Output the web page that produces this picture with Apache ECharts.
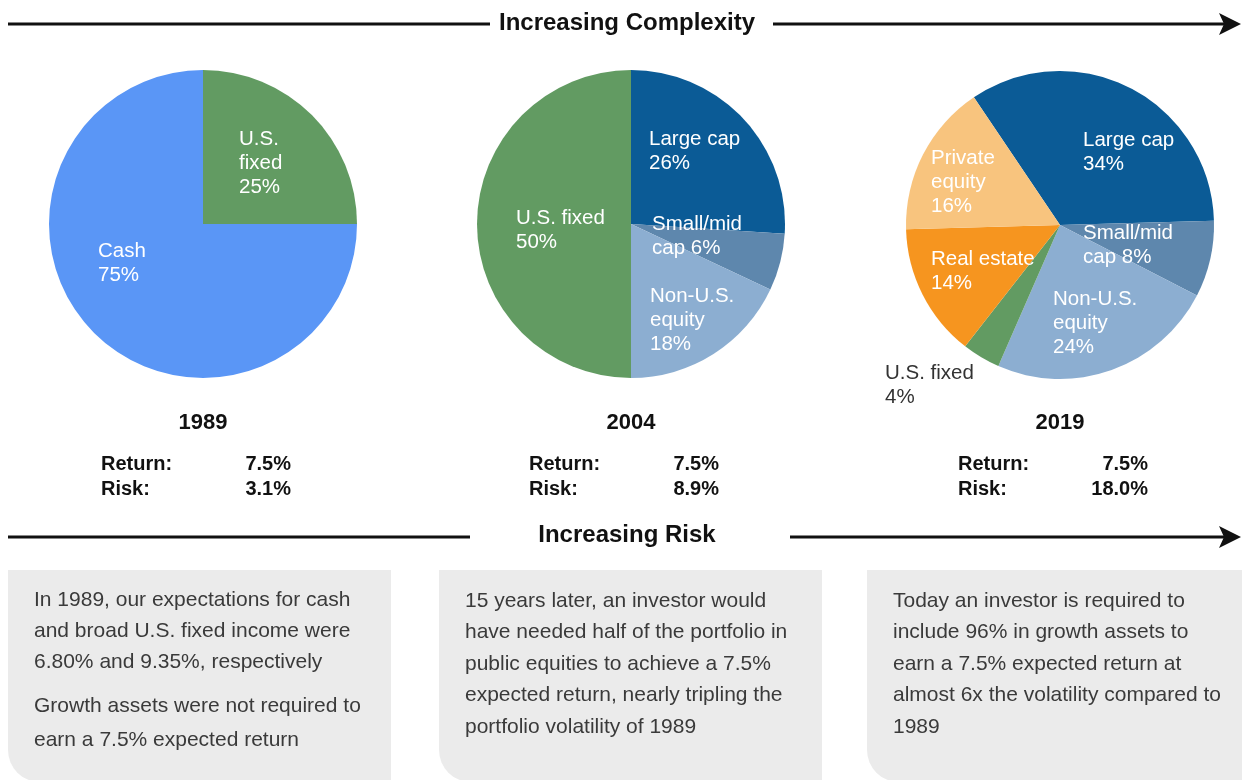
<!DOCTYPE html>
<html>
<head>
<meta charset="utf-8">
<script src="https://cdn.jsdelivr.net/npm/echarts@6/dist/echarts.min.js"></script>
<style>
  html, body { margin: 0; padding: 0; background: #ffffff; }
  #chart { width: 1242px; height: 780px; }
</style>
</head>
<body>
<div id="chart"></div>
<script>
// ---- data ----
const years = ['1989', '2004', '2019'];
const expectedReturn = [7.5, 7.5, 7.5];
const riskLevel = [3.1, 8.9, 18.0];

const names1989 = ['U.S. fixed', 'Cash'];
const values1989 = [25, 75];

const names2004 = ['Large cap', 'Small/mid cap', 'Non-U.S. equity', 'U.S. fixed'];
const values2004 = [26, 6, 18, 50];

const names2019 = ['Large cap', 'Small/mid cap', 'Non-U.S. equity', 'U.S. fixed', 'Real estate', 'Private equity'];
const values2019 = [34, 8, 24, 4, 14, 16];

const topBanner = 'Increasing Complexity';
const bottomBanner = 'Increasing Risk';

const notes1989a = ['In 1989, our expectations for cash', 'and broad U.S. fixed income were', '6.80% and 9.35%, respectively'];
const notes1989b = ['Growth assets were not required to', 'earn a 7.5% expected return'];
const notes2004 = ['15 years later, an investor would', 'have needed half of the portfolio in', 'public equities to achieve a 7.5%', 'expected return, nearly tripling the', 'portfolio volatility of 1989'];
const notes2019 = ['Today an investor is required to', 'include 96% in growth assets to', 'earn a 7.5% expected return at', 'almost 6x the volatility compared to', '1989'];

// ---- styling ----
const FONT = '"Liberation Sans", Arial, Helvetica, sans-serif';
const colors = {
  'Cash': '#5a96f6',
  'U.S. fixed': '#629b62',
  'Large cap': '#0b5b96',
  'Small/mid cap': '#5e87ad',
  'Non-U.S. equity': '#8caed1',
  'Real estate': '#f6951f',
  'Private equity': '#f8c47e'
};
// how each slice label breaks into lines ({v} = percentage)
const labelTemplate = {
  'Cash': 'Cash\n{v}',
  'U.S. fixed': 'U.S. fixed\n{v}',
  'Large cap': 'Large cap\n{v}',
  'Small/mid cap': 'Small/mid\ncap {v}',
  'Non-U.S. equity': 'Non-U.S.\nequity\n{v}',
  'Real estate': 'Real estate\n{v}',
  'Private equity': 'Private\nequity\n{v}'
};

const pies = [
  { names: names1989, values: values1989, cx: 203, cy: 224, r: 154, start: 90,
    wrap: { 'U.S. fixed': 'U.S.\nfixed\n{v}' },
    // label top-left offsets from the pie centre
    offsets: [[36, -97], [-105, 15]] },
  { names: names2004, values: values2004, cx: 631, cy: 224, r: 154, start: 90,
    wrap: {},
    offsets: [[18, -97], [21, -12], [19, 60], [-115, -18]] },
  { names: names2019, values: values2019, cx: 1060, cy: 225, r: 154, start: 124,
    wrap: {},
    offsets: [[23, -97], [23, -4], [-7, 62], [-175, 136], [-129, 22], [-129, -79]],
    outside: { 'U.S. fixed': true } }
];

const series = pies.map((p) => ({
  type: 'pie',
  center: [p.cx, p.cy],
  radius: [0, p.r],
  startAngle: p.start,
  clockwise: true,
  silent: true,
  animation: false,
  emphasis: { disabled: true },
  itemStyle: { borderWidth: 0 },
  labelLine: { show: false },
  label: {
    show: true,
    position: 'inside',
    fontFamily: FONT,
    fontSize: 20.5,
    lineHeight: 24,
    color: '#ffffff',
    formatter: (prm) => {
      const t = p.wrap[prm.name] || labelTemplate[prm.name];
      return t.replace('{v}', prm.value + '%');
    }
  },
  labelLayout: (prm) => {
    const o = p.offsets[prm.dataIndex];
    return { x: p.cx + o[0], y: p.cy + o[1], align: 'left', verticalAlign: 'top' };
  },
  data: p.names.map((n, i) => ({
    name: n,
    value: p.values[i],
    itemStyle: { color: colors[n] },
    label: p.outside && p.outside[n] ? { color: '#333333' } : undefined
  }))
}));

// ---- decorations: arrows, headings, summary stats, note boxes ----
const graphics = [];

function arrowLine(y, x1, x2, x3, tip) {
  graphics.push({ type: 'line', shape: { x1: 8, y1: y, x2: x1, y2: y }, style: { stroke: '#111', lineWidth: 3 } });
  graphics.push({ type: 'line', shape: { x1: x2, y1: y, x2: x3, y2: y }, style: { stroke: '#111', lineWidth: 3 } });
  graphics.push({ type: 'polygon', shape: { points: [[tip - 22, y - 11], [tip, y], [tip - 22, y + 11], [tip - 17, y]] }, style: { fill: '#111' } });
}
arrowLine(24, 490, 773, 1226, 1241);
arrowLine(537, 470, 790, 1226, 1241);

graphics.push({ type: 'text', x: 627, y: 23, style: { text: topBanner, font: 'bold 24px ' + FONT, fill: '#111', align: 'center', verticalAlign: 'middle' } });
graphics.push({ type: 'text', x: 627, y: 535, style: { text: bottomBanner, font: 'bold 24px ' + FONT, fill: '#111', align: 'center', verticalAlign: 'middle' } });

years.forEach((yr, i) => {
  const cx = pies[i].cx;
  graphics.push({ type: 'text', x: cx, y: 423, style: { text: yr, font: 'bold 22px ' + FONT, fill: '#111', align: 'center', verticalAlign: 'middle' } });
  graphics.push({ type: 'text', x: cx - 102, y: 464, style: { text: 'Return:', font: 'bold 20px ' + FONT, fill: '#111', align: 'left', verticalAlign: 'middle' } });
  graphics.push({ type: 'text', x: cx - 102, y: 489, style: { text: 'Risk:', font: 'bold 20px ' + FONT, fill: '#111', align: 'left', verticalAlign: 'middle' } });
  graphics.push({ type: 'text', x: cx + 88, y: 464, style: { text: expectedReturn[i].toFixed(1) + '%', font: 'bold 20px ' + FONT, fill: '#111', align: 'right', verticalAlign: 'middle' } });
  graphics.push({ type: 'text', x: cx + 88, y: 489, style: { text: riskLevel[i].toFixed(1) + '%', font: 'bold 20px ' + FONT, fill: '#111', align: 'right', verticalAlign: 'middle' } });
});

const boxes = [[8, 383], [439, 383], [867, 380]];
boxes.forEach((b) => {
  graphics.push({ type: 'rect', z: -1, shape: { x: b[0], y: 570, width: b[1], height: 212, r: [0, 0, 0, 32] }, style: { fill: '#ebebeb' } });
});

function noteText(x, y, lines, lh) {
  graphics.push({ type: 'text', x: x, y: y, style: { text: lines.join('\n'), font: '21px ' + FONT, fill: '#3a3a3a', align: 'left', verticalAlign: 'top', lineHeight: lh } });
}
noteText(34, 585, notes1989a, 31);
noteText(34, 689, notes1989b, 34);
noteText(465, 585, notes2004, 31.5);
noteText(893, 585, notes2019, 31.5);

const chart = echarts.init(document.getElementById('chart'), null, { renderer: 'canvas' });
chart.setOption({
  backgroundColor: '#ffffff',
  animation: false,
  series: series,
  graphic: { elements: graphics }
});
</script>
</body>
</html>
